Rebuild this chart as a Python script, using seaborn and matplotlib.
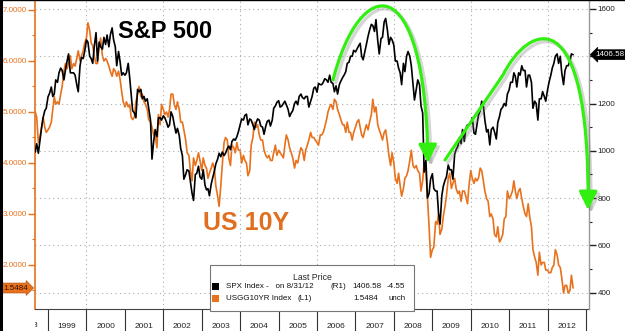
import matplotlib
matplotlib.use('Agg')
import matplotlib.pyplot as plt
import matplotlib.dates as mdates
import matplotlib.ticker as mticker
import matplotlib.patheffects as pe
from matplotlib.patches import FancyArrowPatch, Rectangle
from matplotlib.path import Path
from matplotlib.lines import Line2D
from matplotlib.transforms import Bbox, TransformedBbox
import seaborn as sns
import pandas as pd

ORANGE = '#E8711C'
GREEN = '#33EE11'

# semi-monthly readings (1st and 15th of each month), Sep 1998 .. Aug 2012
start = '1998-09-01'
spx = [
    # 1998
    995, 1030, 990, 1040, 1100, 1140, 1170, 1180,
    # 1999
    1229, 1243, 1270, 1230, 1240, 1300, 1290, 1330, 1350, 1340, 1300, 1340,
    1380, 1410, 1330, 1330, 1330, 1320, 1280, 1250, 1360, 1395, 1390, 1420,
    # 2000
    1469, 1460, 1400, 1390, 1370, 1440, 1500, 1380, 1460, 1440, 1430, 1480,
    1450, 1490, 1440, 1490, 1520, 1470, 1440, 1360, 1420, 1380, 1320, 1330,
    # 2001
    1320, 1330, 1370, 1310, 1240, 1170, 1160, 1140, 1260, 1250, 1260, 1220,
    1230, 1210, 1220, 1180, 1130, 965, 1040, 1090, 1060, 1140, 1140, 1130,
    # 2002
    1148, 1140, 1120, 1100, 1110, 1165, 1145, 1110, 1075, 1095, 1065, 1010,
    980, 880, 900, 920, 915, 870, 820, 790, 900, 905, 935, 890,
    # 2003
    880, 920, 855, 835, 840, 810, 860, 885, 915, 945, 965, 990,
    975, 995, 980, 990, 1010, 1020, 1005, 1040, 1050, 1045, 1060, 1080,
    # 2004
    1110, 1135, 1130, 1150, 1155, 1110, 1135, 1130, 1110, 1090, 1120, 1135,
    1130, 1105, 1100, 1070, 1105, 1125, 1130, 1105, 1130, 1180, 1190, 1205,
    # 2005
    1212, 1185, 1190, 1200, 1210, 1195, 1175, 1145, 1160, 1170, 1200, 1210,
    1195, 1230, 1240, 1225, 1220, 1230, 1230, 1185, 1210, 1230, 1265, 1270,
    # 2006
    1248, 1285, 1280, 1280, 1290, 1305, 1300, 1290, 1320, 1290, 1285, 1250,
    1275, 1240, 1280, 1295, 1310, 1320, 1335, 1370, 1375, 1400, 1400, 1425,
    # 2007
    1418, 1430, 1445, 1455, 1400, 1385, 1420, 1450, 1485, 1510, 1535, 1530,
    1505, 1555, 1465, 1410, 1475, 1480, 1545, 1560, 1510, 1450, 1480, 1470,
    # 2008
    1447, 1380, 1380, 1350, 1330, 1280, 1370, 1335, 1400, 1420, 1400, 1360,
    1280, 1215, 1260, 1300, 1280, 1190, 1160, 910, 960, 800, 820, 880,
    # 2009
    903, 840, 830, 830, 735, 690, 810, 850, 875, 890, 940, 920,
    920, 880, 985, 1005, 1020, 1055, 1030, 1090, 1040, 1095, 1110, 1110,
    # 2010
    1115, 1140, 1075, 1070, 1110, 1150, 1170, 1210, 1190, 1130, 1080, 1090,
    1025, 1090, 1100, 1080, 1050, 1120, 1145, 1175, 1185, 1200, 1190, 1240,
    # 2011
    1258, 1290, 1290, 1330, 1315, 1270, 1330, 1320, 1360, 1340, 1340, 1270,
    1320, 1320, 1290, 1180, 1210, 1200, 1130, 1220, 1220, 1250, 1230, 1210,
    # 2012
    1258, 1290, 1320, 1350, 1370, 1400, 1410, 1370, 1400, 1330, 1280, 1340,
    1360, 1360, 1380, 1410,
]
ust10y = [
    # 1998
    5.00, 4.90, 4.40, 4.50, 4.70, 4.90, 4.70, 4.60,
    # 1999
    4.65, 4.70, 4.80, 5.05, 5.30, 5.15, 5.20, 5.15, 5.35, 5.50, 5.80, 5.95,
    5.85, 5.95, 6.10, 5.85, 5.95, 5.90, 6.05, 6.20, 6.00, 6.10, 6.20, 6.35,
    # 2000
    6.45, 6.75, 6.60, 6.35, 6.30, 6.10, 5.95, 5.95, 6.30, 6.45, 6.10, 6.00,
    6.05, 6.00, 5.90, 5.80, 5.70, 5.85, 5.80, 5.70, 5.80, 5.65, 5.40, 5.20,
    # 2001
    5.10, 5.20, 5.10, 5.15, 4.90, 4.85, 4.90, 5.20, 5.35, 5.50, 5.30, 5.35,
    5.20, 5.15, 5.05, 4.85, 4.80, 4.70, 4.55, 4.55, 4.30, 4.95, 4.75, 5.15,
    # 2002
    5.05, 4.95, 5.00, 4.90, 5.05, 5.35, 5.35, 5.15, 5.05, 5.20, 5.05, 4.80,
    4.80, 4.65, 4.45, 4.20, 4.15, 3.85, 3.65, 4.10, 3.95, 4.05, 4.20, 4.05,
    # 2003
    3.85, 4.10, 3.95, 3.90, 3.70, 3.80, 3.90, 4.00, 3.90, 3.55, 3.35, 3.15,
    3.55, 3.95, 4.40, 4.50, 4.45, 4.10, 3.95, 4.35, 4.30, 4.20, 4.40, 4.25,
    # 2004
    4.25, 4.00, 4.15, 4.05, 4.00, 3.75, 3.85, 4.35, 4.50, 4.80, 4.70, 4.75,
    4.55, 4.45, 4.45, 4.25, 4.15, 4.10, 4.15, 4.05, 4.05, 4.20, 4.35, 4.15,
    # 2005
    4.25, 4.20, 4.15, 4.10, 4.35, 4.55, 4.45, 4.30, 4.20, 4.10, 3.90, 4.05,
    4.00, 4.15, 4.30, 4.25, 4.05, 4.25, 4.35, 4.45, 4.60, 4.50, 4.50, 4.45,
    # 2006
    4.40, 4.35, 4.55, 4.55, 4.60, 4.70, 4.85, 5.00, 5.10, 5.15, 5.05, 5.25,
    5.20, 5.05, 4.95, 4.85, 4.75, 4.75, 4.60, 4.80, 4.60, 4.60, 4.45, 4.60,
    # 2007
    4.70, 4.80, 4.85, 4.70, 4.55, 4.50, 4.65, 4.75, 4.65, 4.80, 4.95, 5.25,
    5.00, 5.10, 4.75, 4.65, 4.55, 4.45, 4.60, 4.65, 4.40, 4.15, 3.95, 4.20,
    # 2008
    4.00, 3.70, 3.60, 3.80, 3.55, 3.35, 3.50, 3.70, 3.75, 3.85, 4.05, 4.25,
    3.95, 3.90, 3.95, 3.85, 3.80, 3.45, 3.65, 4.00, 3.85, 3.35, 2.75, 2.15,
    # 2009
    2.30, 2.35, 2.85, 2.80, 3.00, 2.60, 2.70, 2.95, 3.15, 3.35, 3.70, 3.80,
    3.50, 3.60, 3.70, 3.50, 3.40, 3.45, 3.25, 3.45, 3.45, 3.35, 3.20, 3.55,
    # 2010
    3.85, 3.70, 3.60, 3.70, 3.65, 3.70, 3.90, 3.85, 3.65, 3.45, 3.30, 3.25,
    2.95, 3.00, 2.90, 2.60, 2.55, 2.75, 2.45, 2.50, 2.60, 2.90, 2.95, 3.45,
    # 2011
    3.30, 3.35, 3.45, 3.65, 3.45, 3.30, 3.45, 3.50, 3.30, 3.15, 3.00, 2.95,
    3.20, 2.95, 2.75, 2.30, 2.15, 2.05, 1.80, 2.25, 2.00, 2.05, 2.05, 1.90,
    # 2012
    1.90, 1.85, 1.85, 1.95, 2.00, 2.30, 2.20, 2.00, 1.95, 1.75, 1.45, 1.60,
    1.60, 1.45, 1.50, 1.80,
]
last_date = '2012-08-31'
spx_last = 1406.58
ust_last = 1.5484
spx_chg = '-4.55'
ust_chg = 'unch'
grid_years = [2000, 2002, 2004, 2006, 2008, 2010, 2012]

dates = pd.date_range(start, periods=len(spx), freq='SMS')
df = pd.DataFrame({'date': dates, 'spx': spx, 'yld': ust10y})
df = pd.concat([df, pd.DataFrame({'date': [pd.Timestamp(last_date)],
                                  'spx': [spx_last], 'yld': [ust_last]})],
               ignore_index=True)

sns.set_style('white')
plt.rcParams['font.family'] = ['Liberation Sans', 'DejaVu Sans']

fig = plt.figure(figsize=(6.25, 3.31), dpi=100)
ax = fig.add_axes([35 / 625, 22 / 331, 554 / 625, 309 / 331])
ax2 = ax.twinx()

for y in grid_years:
    ax.axvline(pd.Timestamp(f'{y}-01-01'), color='#aaaaaa', lw=0.8,
               ls=(0, (1, 3)), zorder=0)

sns.lineplot(data=df, x='date', y='yld', ax=ax, color=ORANGE, lw=1.2)
sns.lineplot(data=df, x='date', y='spx', ax=ax2, color='black', lw=1.2)

ax.set_xlim(pd.Timestamp('1998-08-30'), pd.Timestamp('2013-01-29'))
ax.set_ylim(1.137, 7.196)
ax2.set_ylim(331, 1638)
for a in (ax, ax2):
    a.set_xlabel('')
    a.set_ylabel('')

# left axis: yield
ax.yaxis.set_major_locator(mticker.MultipleLocator(1))
ax.yaxis.set_minor_locator(mticker.MultipleLocator(0.5))
ax.yaxis.set_major_formatter(mticker.FormatStrFormatter('%.4f'))
ax.tick_params(axis='y', which='major', left=True, colors=ORANGE, length=5,
               width=1, labelsize=5.8, pad=1, direction='out')
ax.tick_params(axis='y', which='minor', left=True, colors=ORANGE, length=2,
               width=0.8, direction='out')

# right axis: S&P 500 (the 1400 label sits under the last-price tag)
ax2.yaxis.set_major_locator(mticker.MultipleLocator(200))
ax2.yaxis.set_minor_locator(mticker.MultipleLocator(100))
ax2.yaxis.set_major_formatter(mticker.FuncFormatter(
    lambda v, p: '' if abs(v - spx_last) < 60 else f'{v:.0f}'))
ax2.tick_params(axis='y', which='major', right=True, colors='#222222',
                length=5, width=1, labelsize=5.8, pad=1, direction='out')
ax2.tick_params(axis='y', which='minor', right=True, colors='#222222',
                length=2, width=0.8, direction='out')
ax2.grid(axis='y', which='major', color='#aaaaaa', lw=0.8, ls=(0, (1, 3)))

# x axis: year separators + centred year labels
ax.xaxis.set_major_locator(mdates.YearLocator())
ax.xaxis.set_major_formatter(mticker.NullFormatter())
ax.xaxis.set_minor_locator(mdates.MonthLocator(bymonth=7))
ax.xaxis.set_minor_formatter(mdates.DateFormatter('%Y'))
ax.tick_params(axis='x', which='major', bottom=True, length=17, width=0.8,
               color='#333333', direction='out')
ax.tick_params(axis='x', which='minor', bottom=True, length=0,
               labelsize=6, pad=10, labelcolor='#222222')
t98 = ax.text(pd.Timestamp('1998-07-01'), -0.055, '1998', fontsize=6,
              color='#222222', ha='center', va='center', clip_on=True,
              transform=ax.get_xaxis_transform())
t98.set_clip_box(TransformedBbox(Bbox([[0, -0.2], [1, 1]]), ax.transAxes))

for s in ('top', 'right'):
    ax.spines[s].set_visible(False)
for s in ('top', 'left', 'bottom'):
    ax2.spines[s].set_visible(False)
ax.spines['left'].set_color(ORANGE)
ax.spines['left'].set_linewidth(1.2)
ax.spines['bottom'].set_color('#444444')
ax.spines['bottom'].set_linewidth(0.8)
ax2.spines['right'].set_color('#999999')
ax2.spines['right'].set_linewidth(1.0)

# last-value tags
ax.text(-0.057, ust_last, f'{ust_last:.4f}', transform=ax.get_yaxis_transform(),
        fontsize=5.8, color='#331100', ha='left', va='center', clip_on=False,
        bbox=dict(boxstyle='rarrow,pad=0.18', fc=ORANGE, ec='#b85510', lw=0.5))
ax2.text(1.012, spx_last, f'{spx_last:.2f}', transform=ax2.get_yaxis_transform(),
         fontsize=5.8, color='white', ha='left', va='center', clip_on=False,
         zorder=10,
         bbox=dict(boxstyle='larrow,pad=0.18', fc='black', ec='black', lw=0.5))


def px(x, y):
    return ((x - 35) / 554, (309 - y) / 309)


# green arrows drawn over the S&P humps
arc1 = Path([px(333, 80), px(360, -25), px(425, -35), px(428, 163)],
            [Path.MOVETO, Path.CURVE4, Path.CURVE4, Path.CURVE4])
arc2 = Path([px(445, 160), px(503, 75), px(528, 25), px(590, -5), px(588, 210)],
            [Path.MOVETO, Path.LINETO, Path.CURVE4, Path.CURVE4, Path.CURVE4])
for p in (arc1, arc2):
    arr = FancyArrowPatch(path=p, arrowstyle='-|>,head_length=1.1,head_width=0.55',
                          mutation_scale=10, lw=2.3, color=GREEN,
                          transform=ax.transAxes, zorder=5, clip_on=False)
    arr.set_path_effects([pe.SimpleLineShadow(offset=(2, -2), shadow_color='#777777',
                                              alpha=0.3, linewidth=2.5),
                          pe.Normal()])
    ax2.add_patch(arr)

ax2.text(*px(118, 38), 'S&P 500', transform=ax.transAxes, fontsize=17,
         fontweight='bold', color='black', ha='left', va='baseline', zorder=6)
ax2.text(*px(203, 230), 'US 10Y', transform=ax.transAxes, fontsize=18,
         fontweight='bold', color='#E07020', ha='left', va='baseline', zorder=6)

# last price box
x0, y0 = px(210, 311)
x1, y1 = px(414, 265)
ax2.add_patch(Rectangle((x0, y0), x1 - x0, y1 - y0, transform=ax.transAxes,
                        fc='white', ec='#777777', lw=0.8, zorder=7, clip_on=False))
fs = 5.8
ax2.text(*px(312, 277), 'Last Price', transform=ax.transAxes, fontsize=fs + 0.4,
         ha='center', va='center', zorder=8)
rows = [
    ('black', 286, [(226, 'SPX Index -   on 8/31/12'), (330, '(R1)'),
                    (352, f'{spx_last:.2f}'), (387, spx_chg)]),
    (ORANGE, 298, [(226, 'USGG10YR Index'), (297, '(L1)'),
                   (353, f'{ust_last:.4f}'), (388, ust_chg)]),
]
for col, yy, parts in rows:
    sx, sy = px(212, yy + 3.5)
    ax2.add_patch(Rectangle((sx, sy), 7 / 554, 7 / 309, transform=ax.transAxes,
                            fc=col, ec='none', zorder=8, clip_on=False))
    for xx, s in parts:
        ax2.text(*px(xx, yy), s, transform=ax.transAxes, fontsize=fs,
                 ha='left', va='center', zorder=8, color='#111111')

# dark frame on left / top edges
fig.add_artist(Line2D([0.002, 0.002], [0, 1], lw=2.2, color='black',
                      transform=fig.transFigure))
fig.add_artist(Line2D([0, 1], [0.999, 0.999], lw=1.0, color='black',
                      transform=fig.transFigure))

fig.savefig('out.png', dpi=100)
